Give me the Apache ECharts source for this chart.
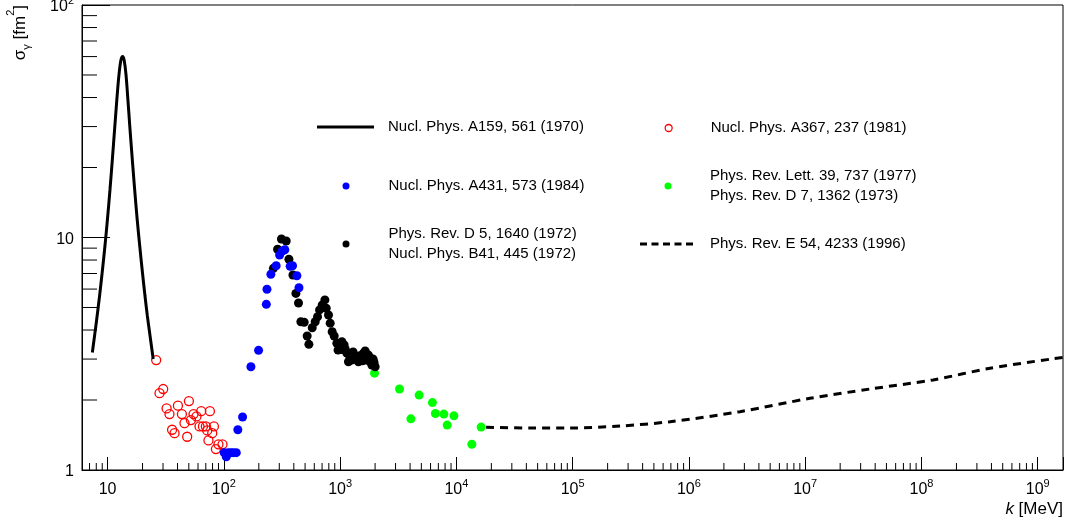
<!DOCTYPE html>
<html>
<head>
<meta charset="utf-8">
<script src="https://cdn.jsdelivr.net/npm/echarts@6/dist/echarts.min.js"></script>
<style>
  html, body { margin: 0; padding: 0; background: #fff; }
  #chart { width: 1069px; height: 525px; }
</style>
</head>
<body>
<div id="chart"></div>
<script>
// axis ranges (log10 scales)
const X_MIN = 6.03, X_MAX = 1.65e9;
const Y_MIN = 1, Y_MAX = 100;
const MINOR_MANTISSA = [2, 3, 4, 5, 6, 7, 8, 9];
const X_DECADES = [1, 10, 100, 1e3, 1e4, 1e5, 1e6, 1e7, 1e8, 1e9];
const Y_DECADES = [1, 10];

// series names (legend texts)
const N_A159 = 'Nucl. Phys. A159, 561 (1970)';
const N_A367 = 'Nucl. Phys. A367, 237 (1981)';
const N_A431 = 'Nucl. Phys. A431, 573 (1984)';
const N_PRL39 = 'Phys. Rev. Lett. 39, 737 (1977)\nPhys. Rev. D 7, 1362 (1973)';
const N_PRD5 = 'Phys. Rev. D 5, 1640 (1972)\nNucl. Phys. B41, 445 (1972)';
const N_PRE54 = 'Phys. Rev. E 54, 4233 (1996)';

// [k MeV, sigma fm^2]
const A159_CURVE = [
  [7.4, 3.2], [8, 4.3], [8.5, 5.5], [9, 7.1], [9.5, 9.2], [10, 12.1], [10.5, 16.1],
  [11, 21.7], [11.5, 29.2], [12, 38.7], [12.5, 49.3], [13, 57.6], [13.5, 60],
  [13.9, 57.8], [14.4, 50.4], [15, 38.5], [15.5, 30.6], [16, 24.7], [17, 16.7],
  [18, 11.9], [19, 9.0], [20, 7.0], [21, 5.6], [22, 4.6], [23, 3.9], [24.7, 3.0]
];

const A367_POINTS = [
  [26.2, 2.97], [28.0, 2.14], [30.1, 2.23], [32.2, 1.84], [34.1, 1.74], [40.3, 1.89],
  [43.6, 1.74], [50.1, 1.98], [45.9, 1.59], [35.9, 1.49], [37.7, 1.44], [48.4, 1.39],
  [52.1, 1.64], [54.9, 1.74], [58.2, 1.70], [63.9, 1.79], [75.9, 1.79], [61.8, 1.54],
  [66.1, 1.54], [70.1, 1.54], [72.0, 1.48], [82.2, 1.54], [79.5, 1.44], [73.8, 1.34],
  [89.9, 1.29], [97.4, 1.29], [85.5, 1.23]
];

const A431_POINTS = [
  [100.7, 1.187], [105, 1.14], [109, 1.187], [115, 1.187], [120.5, 1.187], [128, 1.187],
  [132, 1.49], [145, 1.69], [171, 2.78], [199, 3.27], [232, 5.16], [235, 5.99],
  [254, 6.95], [282, 7.56], [302, 8.41], [318, 8.75], [335, 8.86], [372, 7.52],
  [390, 7.56], [425, 6.85], [443, 6.08]
];

const PRD5_POINTS = [
  [313, 9.85], [344, 9.66], [290, 8.90], [363, 8.06], [267, 7.37], [393, 6.90],
  [417, 5.75], [439, 5.23], [460, 4.34], [491, 4.32], [521, 3.77], [539, 3.47],
  [576, 4.09], [611, 4.34], [640, 4.56], [666, 4.88], [702, 5.13], [740, 5.39],
  [760, 4.96], [795, 4.64], [822, 4.28], [855, 3.93], [890, 3.77], [938, 3.51],
  [960, 3.28], [985, 3.38], [1030, 3.3], [1036, 3.56], [1084, 3.45], [1110, 3.3],
  [1143, 3.18], [1180, 2.92], [1220, 3.05], [1262, 2.97], [1294, 3.22], [1348, 3.07],
  [1390, 3.0], [1440, 2.92], [1480, 3.1], [1517, 3.07], [1560, 2.95], [1589, 3.18],
  [1644, 3.25], [1676, 2.97], [1720, 3.05], [1754, 3.12], [1815, 2.92], [1850, 3.0],
  [1876, 2.83], [1923, 3.0], [1960, 2.9], [2003, 2.78]
];

const PRL39_POINTS = [
  [1977, 2.61], [3243, 2.23], [4786, 2.10], [4064, 1.66], [6227, 1.95], [6607, 1.75],
  [7810, 1.74], [9525, 1.71], [8340, 1.56], [13590, 1.29], [16330, 1.53]
];

const PRE54_CURVE = [
  [18030, 1.527], [43150, 1.516], [95300, 1.516], [256000, 1.546], [689000, 1.613],
  [2.75e6, 1.782], [1.10e7, 2.034], [3.61e7, 2.23], [1.26e8, 2.44], [3.89e8, 2.74],
  [1.65e9, 3.05]
];

const FONT = "'Liberation Sans', Arial, Helvetica, sans-serif";

const xMinor = X_DECADES.flatMap(d => MINOR_MANTISSA.map(m => m * d))
  .filter(v => v > X_MIN && v < X_MAX);
const yMinor = Y_DECADES.flatMap(d => MINOR_MANTISSA.map(m => m * d))
  .filter(v => v > Y_MIN && v < Y_MAX);

function powLabel(v) {
  const l = Math.log10(v);
  const e = Math.round(l);
  if (Math.abs(l - e) > 1e-6) return '';
  if (e === 0) return '{b|1}';
  if (e === 1) return '{b|10}';
  return '{b|10}{sup|' + e + '}';
}

const labelRich = {
  b: { fontSize: 16, fontFamily: FONT, color: '#000', padding: [6, 0, 2, 0] },
  sup: { fontSize: 11, fontFamily: FONT, color: '#000', padding: [2, 0, 11, 0] }
};

// legend boxes are placed by their drawn content, so circle icons get their own left
function legendAt(name, left, top, icon, w, h, gap, extra) {
  return Object.assign({
    data: [{ name: name, icon: icon }],
    left: left, top: top, padding: 0,
    orient: 'horizontal',
    itemWidth: w, itemHeight: h,
    selectedMode: false,
    textStyle: { fontSize: 15, fontFamily: FONT, color: '#000', lineHeight: 20, padding: [0, 0, 0, gap] }
  }, extra || {});
}

const DASH_ICON = 'path://M0,0h7v3h-7z M11.5,0h7v3h-7z M23,0h7v3h-7z M34.5,0h7v3h-7z M46,0h7v3h-7z';

const chart = echarts.init(document.getElementById('chart'));
chart.setOption({
  animation: false,
  backgroundColor: '#fff',
  grid: {
    left: 82, right: 6, top: 5, bottom: 55,
    containLabel: false, outerBoundsMode: 'none',
    show: true, borderColor: '#000', borderWidth: 1, backgroundColor: 'transparent'
  },
  xAxis: {
    type: 'log', logBase: 10, min: X_MIN, max: X_MAX, splitNumber: 10,
    axisLine: { show: true, onZero: false, lineStyle: { color: '#000', width: 1 } },
    axisTick: { show: true, inside: true, length: 13, lineStyle: { color: '#000', width: 1 } },
    splitLine: { show: false },
    minorTick: { show: false },
    axisLabel: { show: true, margin: 6, formatter: powLabel, rich: labelRich, showMinLabel: true, showMaxLabel: true }
  },
  yAxis: {
    type: 'log', logBase: 10, min: Y_MIN, max: Y_MAX,
    axisLine: { show: true, onZero: false, lineStyle: { color: '#000', width: 1 } },
    axisTick: { show: true, inside: true, length: 28, lineStyle: { color: '#000', width: 1 } },
    splitLine: { show: false },
    axisLabel: { show: true, margin: 8, formatter: powLabel, rich: labelRich }
  },
  legend: [
    legendAt(N_A159, 317, 117, 'rect', 57, 3, 9),
    legendAt(N_A431, 342.5, 176, 'circle', 57, 7, 9),
    legendAt(N_PRD5, 342.5, 224, 'circle', 57, 7, 9),
    legendAt(N_A367, 664.5, 118, 'circle', 56, 7, 9, { itemStyle: { borderWidth: 1.3 } }),
    legendAt(N_PRL39, 664.5, 166, 'circle', 56, 7, 9),
    legendAt(N_PRE54, 640, 234, DASH_ICON, 53, 3, 12)
  ],
  graphic: [
    {
      type: 'text', x: 20, y: 5, rotation: Math.PI / 2, silent: true,
      style: {
        text: '{s|σ}{sub|γ}{s| [fm}{sup|2}{s|]}',
        align: 'right', verticalAlign: 'middle', fill: '#000',
        rich: {
          s: { fontSize: 17, fontFamily: FONT, fill: '#000', padding: [6, 0, 6, 0] },
          sub: { fontSize: 11, fontFamily: FONT, fill: '#000', padding: [16, 0, 2, 0] },
          sup: { fontSize: 11, fontFamily: FONT, fill: '#000', padding: [0, 0, 18, 0] }
        }
      }
    },
    {
      type: 'text', x: 1063, y: 509, silent: true,
      style: {
        text: '{i|k}{s| [MeV]}',
        align: 'right', verticalAlign: 'middle', fill: '#000',
        rich: {
          i: { fontSize: 17, fontFamily: FONT, fontStyle: 'italic', fill: '#000' },
          s: { fontSize: 17, fontFamily: FONT, fill: '#000' }
        }
      }
    }
  ],
  series: [
    {
      name: N_A159, type: 'line', data: A159_CURVE, symbol: 'none', smooth: 0.3,
      color: '#000', lineStyle: { color: '#000', width: 3 }, itemStyle: { color: '#000' }
    },
    {
      name: N_PRE54, type: 'line', data: PRE54_CURVE, symbol: 'none', smooth: 0.3,
      color: '#000', lineStyle: { color: '#000', width: 3, type: [8, 6] }, itemStyle: { color: '#000' }
    },
    {
      name: N_A367, type: 'scatter', data: A367_POINTS, symbol: 'circle', symbolSize: 9,
      itemStyle: { color: 'rgba(255,255,255,0)', borderColor: '#ff0000', borderWidth: 1.3, opacity: 1 }
    },
    {
      name: N_PRL39, type: 'scatter', data: PRL39_POINTS, symbol: 'circle', symbolSize: 9,
      itemStyle: { color: '#00ff00', opacity: 1 }
    },
    {
      name: N_PRD5, type: 'scatter', data: PRD5_POINTS, symbol: 'circle', symbolSize: 9,
      itemStyle: { color: '#000000', opacity: 1 }
    },
    {
      name: N_A431, type: 'scatter', data: A431_POINTS, symbol: 'circle', symbolSize: 9,
      itemStyle: { color: '#0000ff', opacity: 1 }
    },
    {
      // minor ticks on the k axis (2..9 per decade)
      type: 'custom', silent: true, clip: false,
      data: xMinor.map(v => [v, Y_MIN]),
      renderItem: (params, api) => {
        const p = api.coord([api.value(0), Y_MIN]);
        return { type: 'line', shape: { x1: p[0], y1: p[1], x2: p[0], y2: p[1] - 7 },
          style: { stroke: '#000', lineWidth: 1 } };
      }
    },
    {
      // minor ticks on the sigma axis
      type: 'custom', silent: true, clip: false,
      data: yMinor.map(v => [X_MIN, v]),
      renderItem: (params, api) => {
        const p = api.coord([X_MIN, api.value(1)]);
        return { type: 'line', shape: { x1: p[0], y1: p[1], x2: p[0] + 15, y2: p[1] },
          style: { stroke: '#000', lineWidth: 1 } };
      }
    }
  ]
});
</script>
</body>
</html>
